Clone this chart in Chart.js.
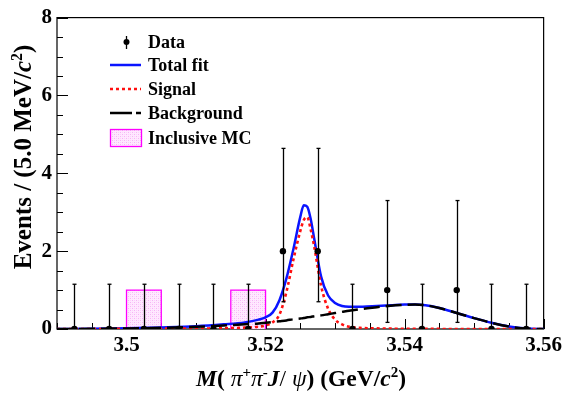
<!DOCTYPE html>
<html><head><meta charset="utf-8">
<script src="https://cdn.jsdelivr.net/npm/chart.js@4.4.0/dist/chart.umd.min.js"></script>
<style>html,body{margin:0;padding:0;background:#fff;}#wrap{width:566px;height:393px;position:relative;}</style>
</head><body><div id="wrap"><canvas id="c" width="566" height="393"></canvas></div>
<script>
// ---- data ----
const binCenters = [3.4925,3.4975,3.5025,3.5075,3.5125,3.5175,3.5225,3.5275,3.5325,3.5375,3.5425,3.5475,3.5525,3.5575];
const counts     = [0,0,0,0,0,0,2,2,0,1,0,1,0,0];
const errLow     = [0,0,0,0,0,0,0.70,0.70,0,0.17,0,0.17,0,0];
const errHigh    = [1.15,1.15,1.15,1.15,1.15,1.15,4.64,4.64,1.15,3.30,1.15,3.30,1.15,1.15];

const fitMass    = [3.490,3.495,3.500,3.505,3.510,3.514,3.517,3.519,3.520,3.521,3.522,3.523,3.524,3.525,3.5255,3.526,3.5265,3.527,3.528,3.529,3.530,3.531,3.532,3.534,3.536,3.538,3.540,3.5415,3.543,3.545,3.5475,3.550,3.5525,3.555,3.5575,3.560];
const totalFit   = [0.0,0.005,0.02,0.04,0.07,0.12,0.17,0.24,0.30,0.42,0.74,1.30,2.05,2.88,3.18,3.14,2.82,2.32,1.34,0.86,0.67,0.59,0.57,0.57,0.59,0.61,0.63,0.63,0.61,0.54,0.41,0.28,0.16,0.065,0.01,0.0];
const signalFit  = [0.0,0.0,0.005,0.008,0.012,0.02,0.035,0.06,0.09,0.17,0.37,0.95,1.78,2.52,2.80,2.87,2.55,2.12,1.10,0.52,0.24,0.12,0.06,0.025,0.015,0.01,0.005,0.004,0.003,0.002,0.001,0.0,0.0,0.0,0.0,0.0];
const bkgFit     = [0.0,0.005,0.015,0.03,0.055,0.09,0.12,0.14,0.16,0.18,0.20,0.22,0.25,0.27,0.28,0.30,0.31,0.33,0.35,0.38,0.41,0.44,0.47,0.52,0.56,0.60,0.62,0.63,0.61,0.54,0.41,0.28,0.16,0.065,0.01,0.0];

const mcBinLow   = [3.500,3.515];
const mcBinHigh  = [3.505,3.520];
const mcCounts   = [1,1];

const xTickValues = [3.50,3.52,3.54,3.56];
const xTickLabels = ['3.5','3.52','3.54','3.56'];
const yTickValues = [0,2,4,6,8];
const yTickLabels = ['0','2','4','6','8'];

const legendLabels = ['Data','Total fit','Signal','Background','Inclusive MC'];

// ---- build library data ----
const pts = (xs, ys) => xs.map((x,i)=>({x:x,y:ys[i]}));
const mcStep = [];
mcBinLow.forEach((lo,i)=>{
  const hi = mcBinHigh[i], c = mcCounts[i];
  mcStep.push({x:lo,y:0},{x:lo,y:c},{x:hi,y:c},{x:hi,y:0},{x:hi,y:null});
});

const ctx0 = document.getElementById('c').getContext('2d');
const mcPattern = ctx0.createPattern((()=>{
  const p=document.createElement('canvas'); p.width=4; p.height=4;
  const g=p.getContext('2d');
  g.fillStyle='#ffe9ff'; g.fillRect(0,0,4,4);
  g.fillStyle='#f6b4f6'; g.fillRect(0,0,1,1); g.fillRect(2,2,1,1);
  g.fillStyle='#fbd2fb'; g.fillRect(2,0,1,1); g.fillRect(0,2,1,1);
  return p;})(),'repeat');

const SERIF = '"Liberation Serif", "Times New Roman", serif';
const BLUE = '#0a14ff', RED = '#ff1010', MAG = '#ff00ff';

const framePlugin = {
  id:'frame',
  beforeDatasetsDraw(chart){
    const {ctx, chartArea:a, scales:{x,y}} = chart;
    ctx.save();
    ctx.strokeStyle = '#000'; ctx.lineWidth = 1.2;
    ctx.strokeRect(a.left, a.top, a.right-a.left, a.bottom-a.top);
    ctx.lineWidth = 1;
    for (let k=0;k<=14;k++){
      const v = 3.49 + k*0.005;
      const px = Math.round(x.getPixelForValue(v))+0.5;
      const major = xTickValues.some(t=>Math.abs(t-v)<1e-6);
      const len = major ? 10 : 6;
      ctx.beginPath(); ctx.moveTo(px, a.bottom); ctx.lineTo(px, a.bottom-len); ctx.stroke();
    }
    for (let k=0;k<=16;k++){
      const v = k*0.5;
      const py = Math.round(y.getPixelForValue(v))+0.5;
      const major = yTickValues.includes(v);
      const len = major ? 11 : 6;
      ctx.beginPath(); ctx.moveTo(a.left, py); ctx.lineTo(a.left+len, py); ctx.stroke();
    }
    ctx.restore();
  },
  afterDatasetsDraw(chart){
    const {ctx, scales:{x,y}} = chart;
    ctx.save();
    ctx.strokeStyle = '#000'; ctx.lineWidth = 1.3;
    binCenters.forEach((m,i)=>{
      const px = Math.round(x.getPixelForValue(m))+0.5;
      const y1 = y.getPixelForValue(errLow[i]), y2 = y.getPixelForValue(errHigh[i]);
      ctx.beginPath(); ctx.moveTo(px,y1); ctx.lineTo(px,y2); ctx.stroke();
      ctx.beginPath(); ctx.moveTo(px-2,y2); ctx.lineTo(px+2,y2); ctx.stroke();
      if (errLow[i] > 0){ ctx.beginPath(); ctx.moveTo(px-2,y1); ctx.lineTo(px+2,y1); ctx.stroke(); }
    });
    ctx.restore();
  },
  afterDraw(chart){
    const {ctx} = chart;
    ctx.save();
    const lx0 = 110, lx1 = 141, tx = 148;
    const rows = [42, 65, 89, 113, 138];
    ctx.fillStyle = '#000'; ctx.strokeStyle = '#000';
    ctx.lineWidth = 1.3;
    ctx.beginPath(); ctx.moveTo(126.5, rows[0]-6); ctx.lineTo(126.5, rows[0]+7); ctx.stroke();
    ctx.beginPath(); ctx.arc(126.5, rows[0], 3, 0, Math.PI*2); ctx.fill();
    ctx.lineWidth = 2.5; ctx.strokeStyle = BLUE;
    ctx.beginPath(); ctx.moveTo(lx0, rows[1]); ctx.lineTo(lx1, rows[1]); ctx.stroke();
    ctx.strokeStyle = RED; ctx.setLineDash([3,3]);
    ctx.beginPath(); ctx.moveTo(lx0, rows[2]); ctx.lineTo(lx1, rows[2]); ctx.stroke();
    ctx.setLineDash([]);
    ctx.strokeStyle = '#000';
    ctx.beginPath(); ctx.moveTo(lx0, rows[3]); ctx.lineTo(lx0+22, rows[3]); ctx.stroke();
    ctx.beginPath(); ctx.moveTo(lx0+26, rows[3]); ctx.lineTo(lx1, rows[3]); ctx.stroke();
    ctx.fillStyle = mcPattern; ctx.fillRect(lx0, rows[4]-8.5, lx1-lx0, 17);
    ctx.strokeStyle = MAG; ctx.lineWidth = 1.3; ctx.strokeRect(lx0+0.5, rows[4]-8.5, lx1-lx0, 17);
    ctx.fillStyle = '#000';
    ctx.font = 'bold 18px ' + SERIF; ctx.textBaseline = 'middle'; ctx.textAlign = 'left';
    legendLabels.forEach((t,i)=> ctx.fillText(t, tx, rows[i]+1));

    function measure(parts, size){
      let w = 0;
      parts.forEach(p=>{ ctx.font = p.f(p.sup ? Math.round(size*0.62) : size); p.w = ctx.measureText(p.t).width; w += p.w; });
      return w;
    }
    function render(parts, x0, yb, size){
      let x = x0;
      parts.forEach(p=>{
        ctx.font = p.f(p.sup ? Math.round(size*0.62) : size);
        ctx.fillText(p.t, x, p.sup ? yb - size*0.38 : yb);
        x += p.w;
      });
    }
    const B = s => 'bold ' + s + 'px ' + SERIF;
    const BI = s => 'italic bold ' + s + 'px ' + SERIF;
    const I = s => 'italic ' + s + 'px ' + SERIF;
    const N = s => s + 'px ' + SERIF;
    ctx.textBaseline = 'alphabetic'; ctx.textAlign = 'left';
    const xs = 23.5;
    const xParts = [
      {t:'M',f:BI},{t:'( ',f:B},{t:'π',f:I},{t:'+',f:B,sup:true},{t:'π',f:I},{t:'-',f:B,sup:true},
      {t:'J',f:BI},{t:'/ ',f:N},{t:'ψ',f:I},{t:') (GeV/',f:B},{t:'c',f:BI},{t:'2',f:B,sup:true},{t:')',f:B}
    ];
    const wx = measure(xParts, xs);
    render(xParts, 301 - wx/2, 386, xs);

    const ys = 25;
    const yParts = [{t:'Events / (5.0 MeV/',f:B},{t:'c',f:BI},{t:'2',f:B,sup:true},{t:')',f:B}];
    const wy = measure(yParts, ys);
    ctx.translate(31, 157); ctx.rotate(-Math.PI/2);
    render(yParts, -wy/2, 0, ys);
    ctx.restore();
  }
};

new Chart(document.getElementById('c'), {
  type:'line',
  data:{ datasets:[
    { label:'Data', type:'scatter', data: pts(binCenters, counts), showLine:false,
      pointRadius:3.2, pointBackgroundColor:'#000', pointBorderColor:'#000', pointBorderWidth:0, order:1 },
    { label:'Background', data: pts(fitMass, bkgFit), borderColor:'#000', borderWidth:2.5,
      borderDash:[16,6], pointRadius:0, cubicInterpolationMode:'monotone', fill:false, order:2 },
    { label:'Signal', data: pts(fitMass, signalFit), borderColor:RED, borderWidth:2.6,
      borderDash:[3,3], pointRadius:0, cubicInterpolationMode:'monotone', fill:false, order:3 },
    { label:'Total fit', data: pts(fitMass, totalFit), borderColor:BLUE, borderWidth:2.5,
      pointRadius:0, cubicInterpolationMode:'monotone', fill:false, order:4 },
    { label:'Inclusive MC', data: mcStep, borderColor:MAG, borderWidth:1.3, backgroundColor: mcPattern,
      fill:'origin', pointRadius:0, tension:0, spanGaps:false, order:5 }
  ]},
  options:{
    responsive:false, animation:false, devicePixelRatio:1,
    layout:{padding:{top:10,right:21,left:0,bottom:0}},
    plugins:{legend:{display:false}, tooltip:{enabled:false}},
    scales:{
      x:{ type:'linear', min:3.49, max:3.56,
        afterBuildTicks: s => { s.ticks = xTickValues.map(v=>({value:v})); },
        afterFit: s => { s.height = 64; },
        grid:{display:false, drawTicks:false}, border:{display:false},
        ticks:{ callback:(v)=>{const i = xTickValues.findIndex(t=>Math.abs(t-v)<1e-6); return i>=0?xTickLabels[i]:'';},
          font:{family:SERIF, weight:'bold', size:21}, color:'#000', padding:4, maxRotation:0, autoSkip:false } },
      y:{ type:'linear', min:0, max:8,
        afterBuildTicks: s => { s.ticks = yTickValues.map(v=>({value:v})); },
        afterFit: s => { s.width = 57; },
        grid:{display:false, drawTicks:false}, border:{display:false},
        ticks:{ callback:(v)=>{const i = yTickValues.indexOf(v); return i>=0?yTickLabels[i]:'';},
          font:{family:SERIF, weight:'bold', size:21}, color:'#000', padding:5 } }
    }
  },
  plugins:[framePlugin]
});
</script></body></html>
